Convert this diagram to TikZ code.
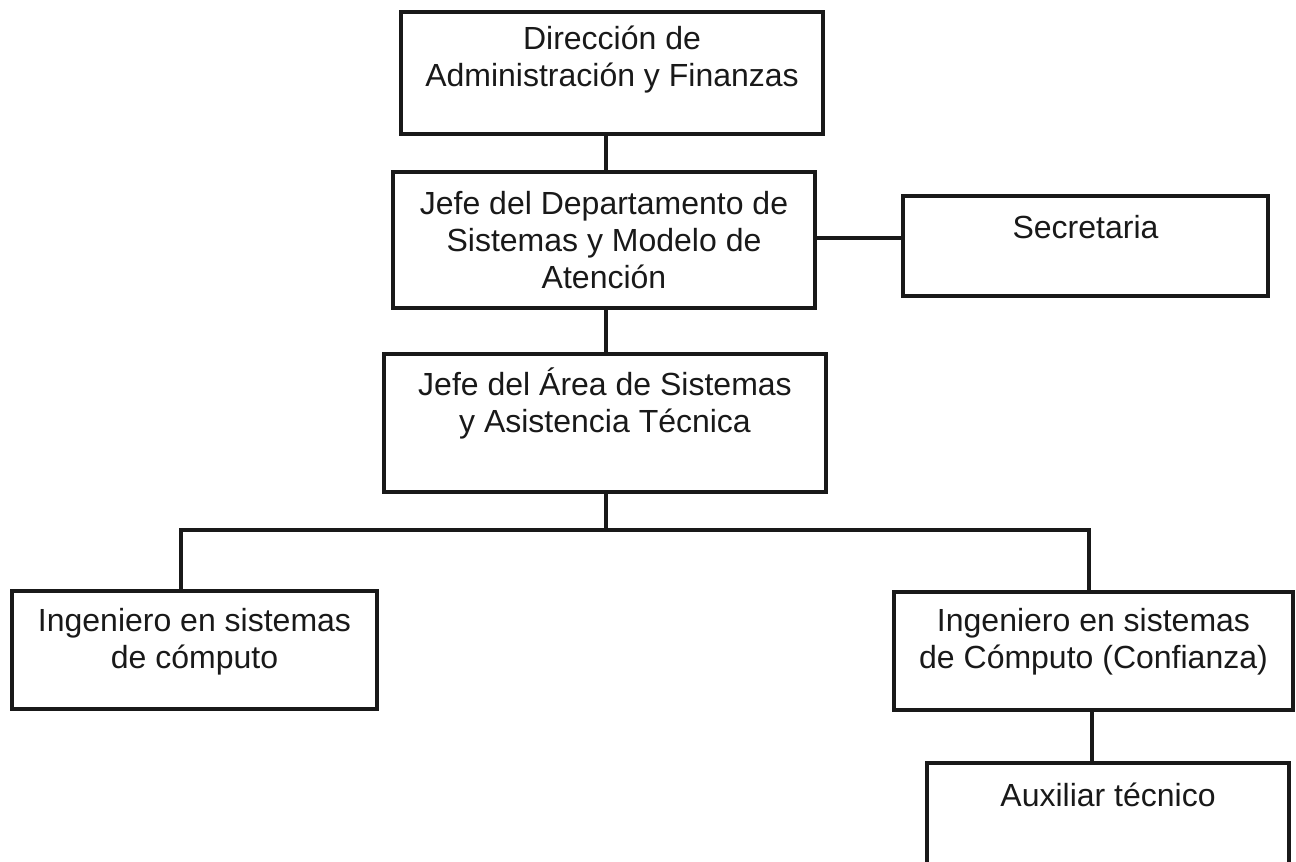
\documentclass[tikz,border=0pt]{standalone}
\usepackage{fontspec}
\setmainfont{Liberation Sans}
\newcommand{\lab}{\fontsize{16}{18.5}\selectfont}
\begin{document}
\begin{tikzpicture}[x=0.5pt,y=-0.5pt,
  box/.style={draw=black!90, line width=2.2pt, rectangle, inner sep=0pt},
  txt/.style={font=\lab, align=center, inner sep=0pt, text=black!90},
  conn/.style={draw=black!90, line width=2.1pt}]
\useasboundingbox (0,0) rectangle (1296,862);
\clip (0,0) rectangle (1296,862);
% boxes
\node[box, minimum width=211pt, minimum height=61pt] (b1) at (612,73) {};
\node[txt] (b1t) at (612,60) {Dirección de\\Administración y Finanzas};
\node[box, minimum width=211pt, minimum height=68pt] (b2) at (604,240) {};
\node[txt] (b2t) at (604,240) {Jefe del Departamento de\\Sistemas y Modelo de\\Atención};
\node[box, minimum width=182.5pt, minimum height=50pt] (sec) at (1085.5,246) {};
\node[txt] (sect) at (1085.5,227) {Secretaria};
\node[box, minimum width=221pt, minimum height=69pt] (b3) at (605,423) {};
\node[txt] (b3t) at (605,403.5) {Jefe del Área de Sistemas\\y Asistencia Técnica};
\node[box, minimum width=182.5pt, minimum height=59pt] (left) at (194.5,650) {};
\node[txt] (leftt) at (194.5,641.5) {Ingeniero en sistemas\\de cómputo};
\node[box, minimum width=199.5pt, minimum height=59pt] (right) at (1093.5,651) {};
\node[txt] (rightt) at (1093.5,641.5) {Ingeniero en sistemas\\de Cómputo (Confianza)};
\node[box, minimum width=181pt, minimum height=70pt] (aux) at (1108,833) {};
\node[txt] (auxt) at (1108,795) {Auxiliar técnico};
% connectors
\coordinate (busC) at (606,530);
\coordinate (busL) at (181,530);
\coordinate (busR) at (1089,530);
\draw[conn] ([xshift=-3pt]b1.south) -- ([xshift=-3pt]b1.south |- b2.north);
\draw[conn] ([xshift=1pt]b2.south) -- ([xshift=1pt]b2.south |- b3.north);
\draw[conn] ([yshift=1pt]b2.east) -- ([yshift=1pt]b2.east -| sec.west);
\draw[conn] (busC |- b3.south) -- (busC);
\draw[conn] (busL |- left.north) -- (busL) -- (busR) -- (busR |- right.north);
\draw[conn] ([xshift=-0.75pt]right.south) -- ([xshift=-0.75pt]right.south |- aux.north);
\end{tikzpicture}
\end{document}
